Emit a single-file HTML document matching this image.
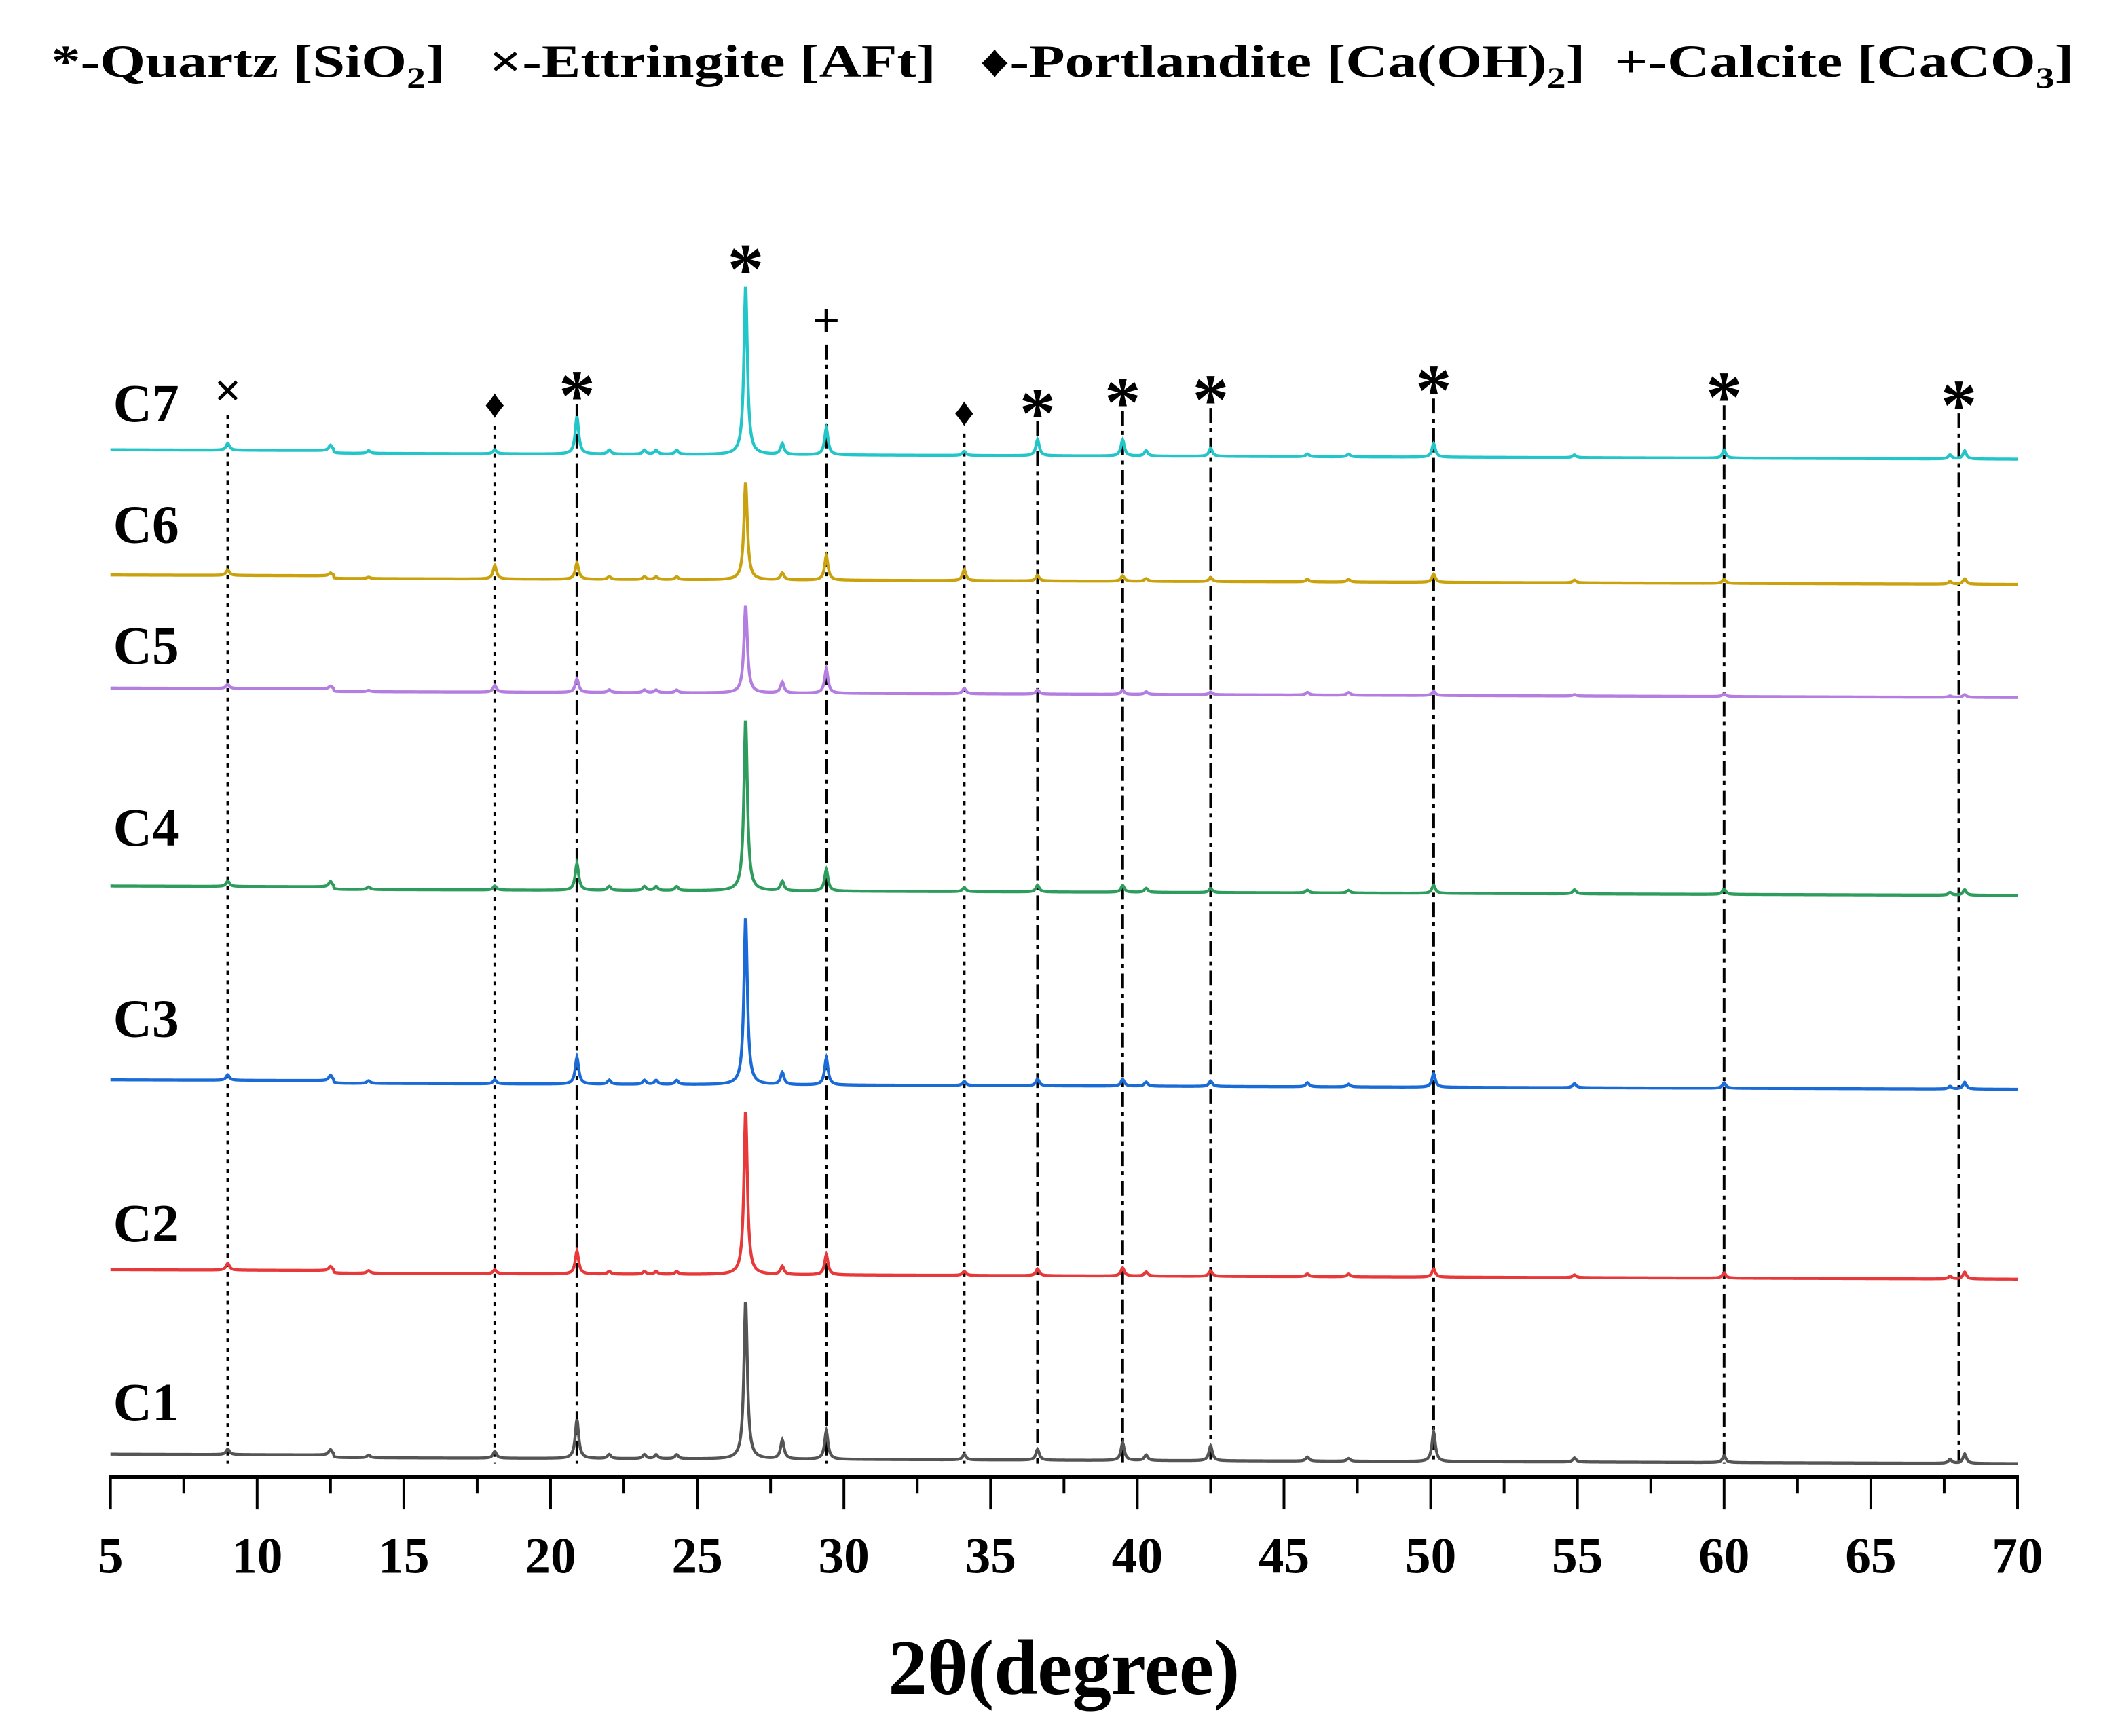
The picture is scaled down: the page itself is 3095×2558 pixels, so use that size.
<!DOCTYPE html>
<html><head><meta charset="utf-8"><style>
html,body{margin:0;padding:0;background:#fff;}
svg{display:block;}
text{font-family:"Liberation Serif",serif;font-weight:bold;fill:#000;}
</style></head><body>
<svg id="chart" width="3095" height="2558" viewBox="0 0 1560 1289.3" xmlns="http://www.w3.org/2000/svg">
  <text x="38" y="57" font-size="34" textLength="1502" lengthAdjust="spacingAndGlyphs">*-Quartz [SiO<tspan font-size="22" dy="8">2</tspan><tspan dy="-8">]&#160;&#160; ×-Ettringite [AFt]&#160;&#160; ♦-Portlandite [Ca(OH)</tspan><tspan font-size="22" dy="8">2</tspan><tspan dy="-8">]&#160; +-Calcite [CaCO</tspan><tspan font-size="22" dy="8">3</tspan><tspan dy="-8">]</tspan></text>
  <g id="reflines"></g>
  <g id="series"></g>
  <g id="markers"></g>
  <g id="axis"></g>
  <text x="790" y="1258" font-size="58" text-anchor="middle">2θ(degree)</text>
</svg>
<script>
const NS="http://www.w3.org/2000/svg";
const xTicks=[5,10,15,20,25,30,35,40,45,50,55,60,65,70];
const seriesNames=["C1","C2","C3","C4","C5","C6","C7"];
const seriesColors=["#555555","#e8393a","#1a6bd6","#2e9c5c","#b37ee0","#c9a20e","#22c5c8"];
const seriesOffsets=[1080,943,802,658,511,427,334];
const labelY=[1055,922,770,628,493,403,313];
const peakPos=[9.0,12.5,13.8,18.1,20.9,22.0,23.2,23.6,24.3,26.65,27.9,29.4,34.1,36.6,39.5,40.3,42.5,45.8,47.2,50.1,54.9,60.0,67.7,68.2];
const peakC1=[4,4,2,5,29,3,3,3,3,118,14,21,4,8,13,4,11,3,2,22,3,5,3,7];
const peakC2=[5,3,2,3,17,2,2,2,2,122,6,15,3,5,6,3,4,2,2,6,2,4,2,5];
const peakC3=[4,4,2,3,20,3,3,3,3,125,9,20,3,5,5,3,4,3,2,10,3,4,2,5];
const peakC4=[4,4,2,3,20,3,3,3,3,128,7,16,3,5,5,3,3,2,2,6,3,4,2,4];
const peakC5=[3,2,1,5,10,2,2,2,2,65,8,18,4,3,3,2,2,2,2,3,1,2,1,2];
const peakC6=[4,2,1,10,12,2,2,2,2,73,5,18,8,4,4,2,3,2,2,6,2,3,2,4];
const peakC7=[5,4,2,3,28,3,3,3,3,126,8,20,3,12,12,4,6,2,2,10,2,6,3,6];
const peakSets=[peakC1,peakC2,peakC3,peakC4,peakC5,peakC6,peakC7];
const refPos=[9.0,18.1,20.9,29.4,34.1,36.6,39.5,42.5,50.1,60.0,68.0];
const refStyle=["dot","dot","dashdot","dashdot","dot","dashdot","dashdot","dashdot","dashdot","dashdot","dashdot"];
const markerSym=["×","♦","*","+","♦","*","*","*","*","*","*"];
const markerY=[290,298,282,238,304,295,287,285,278,283,289];
const mainMarkerPos=[26.65];const mainMarkerY=[188];

const X0=5,X1=70,PX0=82,PX1=1498,AXY=1097;
const xs=v=>PX0+(v-X0)/(X1-X0)*(PX1-PX0);
const tilt=v=>(v-X0)/(X1-X0)*5;

const ref=document.getElementById('reflines');
refPos.forEach((p,i)=>{
  const l=document.createElementNS(NS,'line');
  
  
  l.setAttribute('x1',xs(p));l.setAttribute('x2',xs(p));
  l.setAttribute('y1',markerY[i]+18);l.setAttribute('y2',AXY-10);
  l.setAttribute('stroke','#000');l.setAttribute('stroke-width','2');
  l.setAttribute('stroke-dasharray',refStyle[i]==='dot'?'3,4':'11,4,3,4');
  ref.appendChild(l);
});

const sg=document.getElementById('series');
peakSets.forEach((pk,s)=>{
  let d='';
  for(let v=X0;v<=X1+1e-6;v+=0.02){
    let y=seriesOffsets[s]+tilt(v)+(v>12.6?2:0);
    for(let k=0;k<peakPos.length;k++){
      const dx=(v-peakPos[k])/0.07;
      y-=pk[k]/(1+dx*dx);
    }
    d+=(d?'L':'M')+xs(v).toFixed(2)+','+y.toFixed(2);
  }
  const p=document.createElementNS(NS,'path');
  
  
  p.setAttribute('d',d);p.setAttribute('fill','none');
  p.setAttribute('stroke',seriesColors[s]);p.setAttribute('stroke-width','2.2');
  sg.appendChild(p);
  const t=document.createElementNS(NS,'text');
  
  
  t.setAttribute('x',84);t.setAttribute('y',labelY[s]);t.setAttribute('font-size','40');
  t.textContent=seriesNames[s];
  sg.appendChild(t);
});

const mg=document.getElementById('markers');
function addMarker(p,y,sym){
  const t=document.createElementNS(NS,'text');
  
  
  t.setAttribute('x',xs(p));
  const fs=sym==='*'?54:(sym==='♦'?30:36);
  t.setAttribute('y',y+(sym==='*'?30:12));
  t.setAttribute('text-anchor','middle');
  t.setAttribute('font-size',fs);
  t.setAttribute('font-weight',sym==='×'||sym==='+'?'normal':'bold');
  t.textContent=sym;mg.appendChild(t);
}
refPos.forEach((p,i)=>addMarker(p,markerY[i],markerSym[i]));
mainMarkerPos.forEach((p,i)=>addMarker(p,mainMarkerY[i],'*'));

const ag=document.getElementById('axis');
const al=document.createElementNS(NS,'line');


al.setAttribute('x1',PX0-1);al.setAttribute('x2',PX1+1);al.setAttribute('y1',AXY);al.setAttribute('y2',AXY);
al.setAttribute('stroke','#000');al.setAttribute('stroke-width','3');ag.appendChild(al);
for(let v=X0;v<=X1;v+=2.5){
  const major=(v%5===0);
  const t=document.createElementNS(NS,'line');
  
  
  t.setAttribute('x1',xs(v));t.setAttribute('x2',xs(v));t.setAttribute('y1',AXY);t.setAttribute('y2',AXY+(major?24:12));
  t.setAttribute('stroke','#000');t.setAttribute('stroke-width','2');ag.appendChild(t);
}
xTicks.forEach(v=>{
  const t=document.createElementNS(NS,'text');
  
  
  t.setAttribute('x',xs(v));t.setAttribute('y',1168);t.setAttribute('text-anchor','middle');t.setAttribute('font-size','38');
  t.textContent=v;ag.appendChild(t);
});
</script>
</body></html>
